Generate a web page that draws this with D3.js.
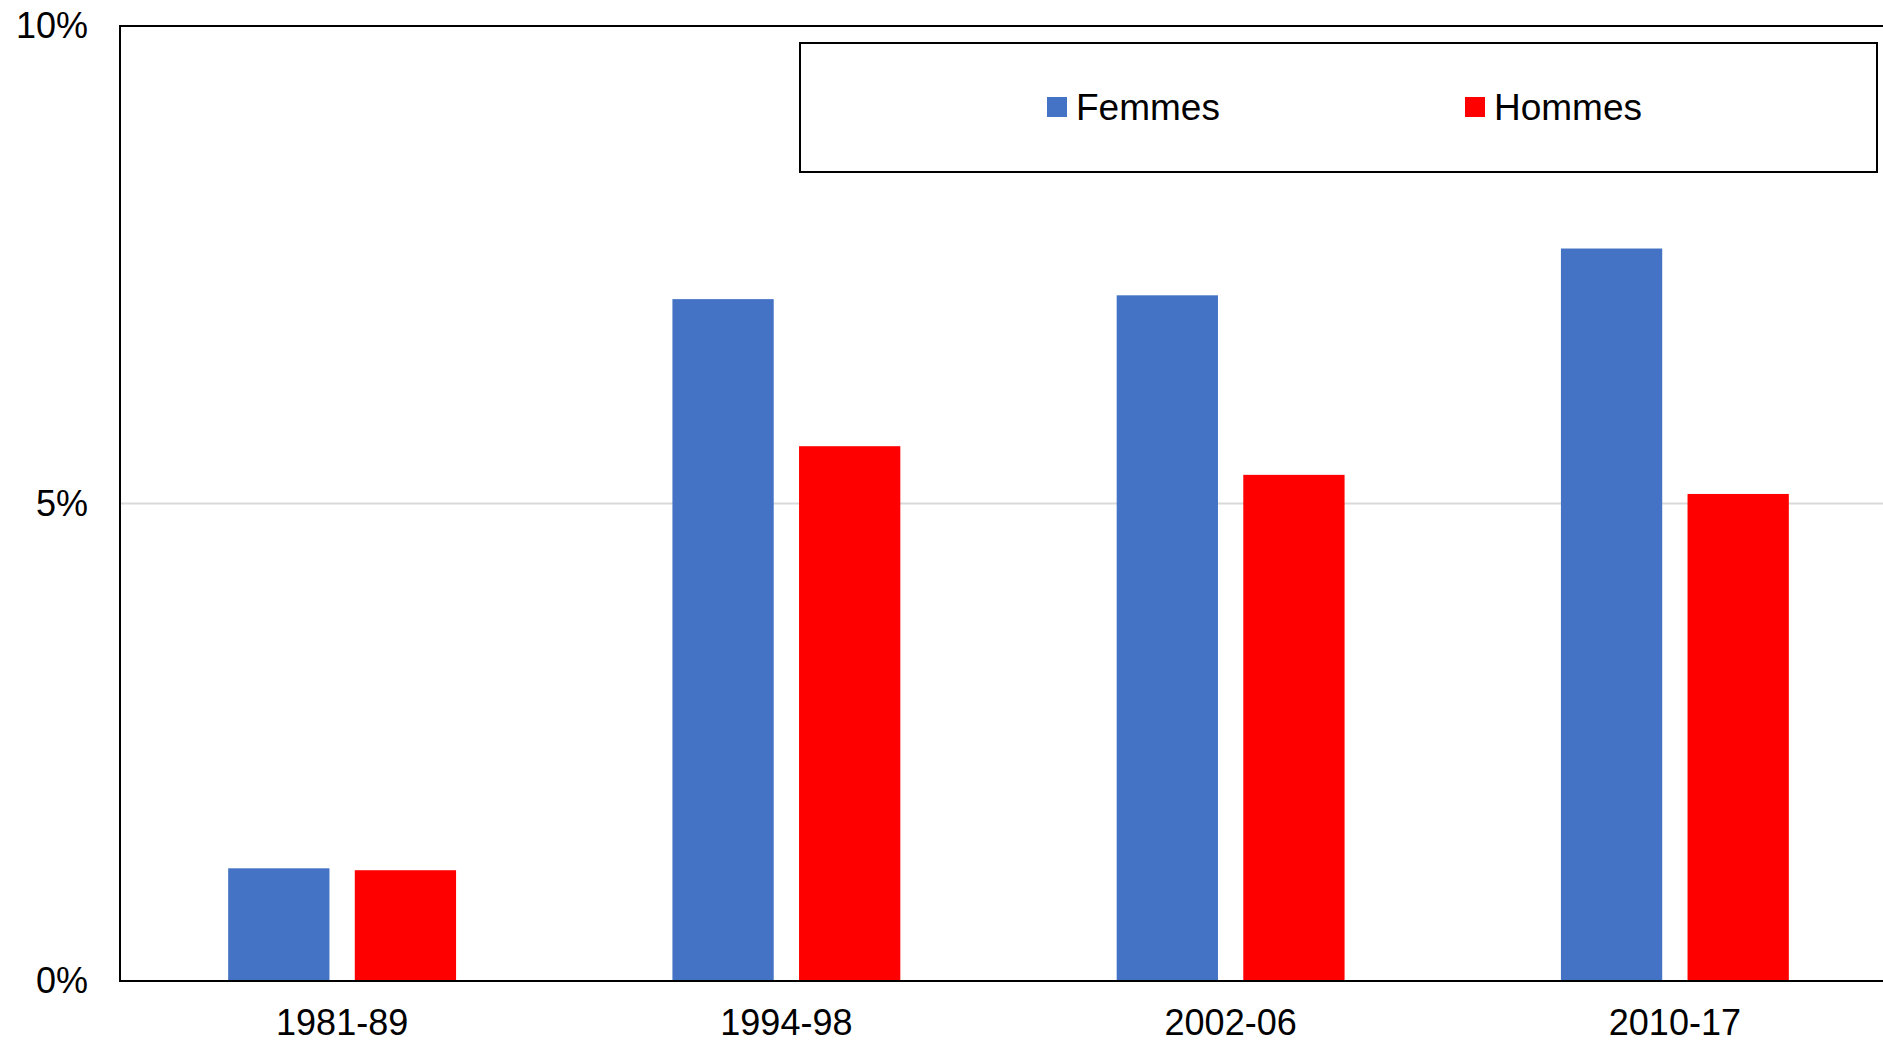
<!DOCTYPE html>
<html><head><meta charset="utf-8">
<script src="https://cdn.jsdelivr.net/npm/d3@7"></script>
<style>body{margin:0;background:#fff;} svg{display:block;font-family:"Liberation Sans",Arial,sans-serif;}</style>
</head><body>
<svg id="c" width="1883" height="1043"></svg>
<script>
const categories = ["1981-89","1994-98","2002-06","2010-17"];
const femmes = [1.18, 7.14, 7.18, 7.67];
const hommes = [1.16, 5.60, 5.30, 5.10];
const seriesNames = ["Femmes","Hommes"];
const seriesColors = ["#4472C4","#FF0000"];
const yTicks = [0,5,10];

(function(){
const svg = d3.select("#c");
const pLeft = 120, pRight = 1897, pTop = 26, pBottom = 981;
const x = d3.scaleBand().domain(categories).range([pLeft,pRight]).paddingInner(0.487).paddingOuter(0.2435);
const xs = d3.scaleBand().domain(seriesNames).range([0,x.bandwidth()]).paddingInner(0.2);
const y = d3.scaleLinear().domain([0,10]).range([pBottom,pTop]);

// gridline
svg.append("g").selectAll("line").data(yTicks.filter(d=>d>0&&d<10)).join("line")
  .attr("x1",pLeft).attr("x2",pRight).attr("y1",d=>y(d)).attr("y2",d=>y(d))
  .attr("stroke","#d9d9d9").attr("stroke-width",2);

const data = categories.map((c,i)=>({c, vals:[femmes[i],hommes[i]]}));
const g = svg.append("g").selectAll("g").data(data).join("g")
  .attr("transform",d=>`translate(${x(d.c)},0)`);
g.selectAll("rect").data(d=>d.vals.map((v,j)=>({v,s:seriesNames[j],j}))).join("rect")
  .attr("x",d=>xs(d.s)).attr("width",xs.bandwidth())
  .attr("y",d=>y(d.v)).attr("height",d=>pBottom-y(d.v))
  .attr("fill",d=>seriesColors[d.j]);

// frame
svg.append("rect").attr("x",pLeft).attr("y",pTop).attr("width",pRight-pLeft).attr("height",pBottom-pTop)
  .attr("fill","none").attr("stroke","#000").attr("stroke-width",2);

// y axis labels
const yAxis = d3.axisLeft(y).tickValues(yTicks).tickFormat(d=>d+"%").tickSize(0).tickPadding(32);
const ya = svg.append("g").attr("transform",`translate(${pLeft},0)`).call(yAxis);
ya.select(".domain").remove();
ya.selectAll("text").attr("font-size",36).attr("fill","#000").attr("font-family","Liberation Sans, Arial, sans-serif");

// x axis labels
const xAxis = d3.axisBottom(x).tickSize(0).tickPadding(28);
const xa = svg.append("g").attr("transform",`translate(0,${pBottom})`).call(xAxis);
xa.select(".domain").remove();
xa.selectAll("text").attr("font-size",36).attr("fill","#000").attr("font-family","Liberation Sans, Arial, sans-serif");

// legend
svg.append("rect").attr("x",800).attr("y",43).attr("width",1077).attr("height",129)
  .attr("fill","#fff").attr("stroke","#000").attr("stroke-width",2);
const legX = [1047, 1465];
const lg = svg.append("g").selectAll("g").data(seriesNames).join("g")
  .attr("transform",(d,i)=>`translate(${legX[i]},107)`);
lg.append("rect").attr("x",0).attr("y",-10).attr("width",20).attr("height",20).attr("fill",(d,i)=>seriesColors[i]);
lg.append("text").attr("x",29).attr("y",0).attr("dy","0.36em").attr("font-size",37).text(d=>d);
})();
</script>
</body></html>
